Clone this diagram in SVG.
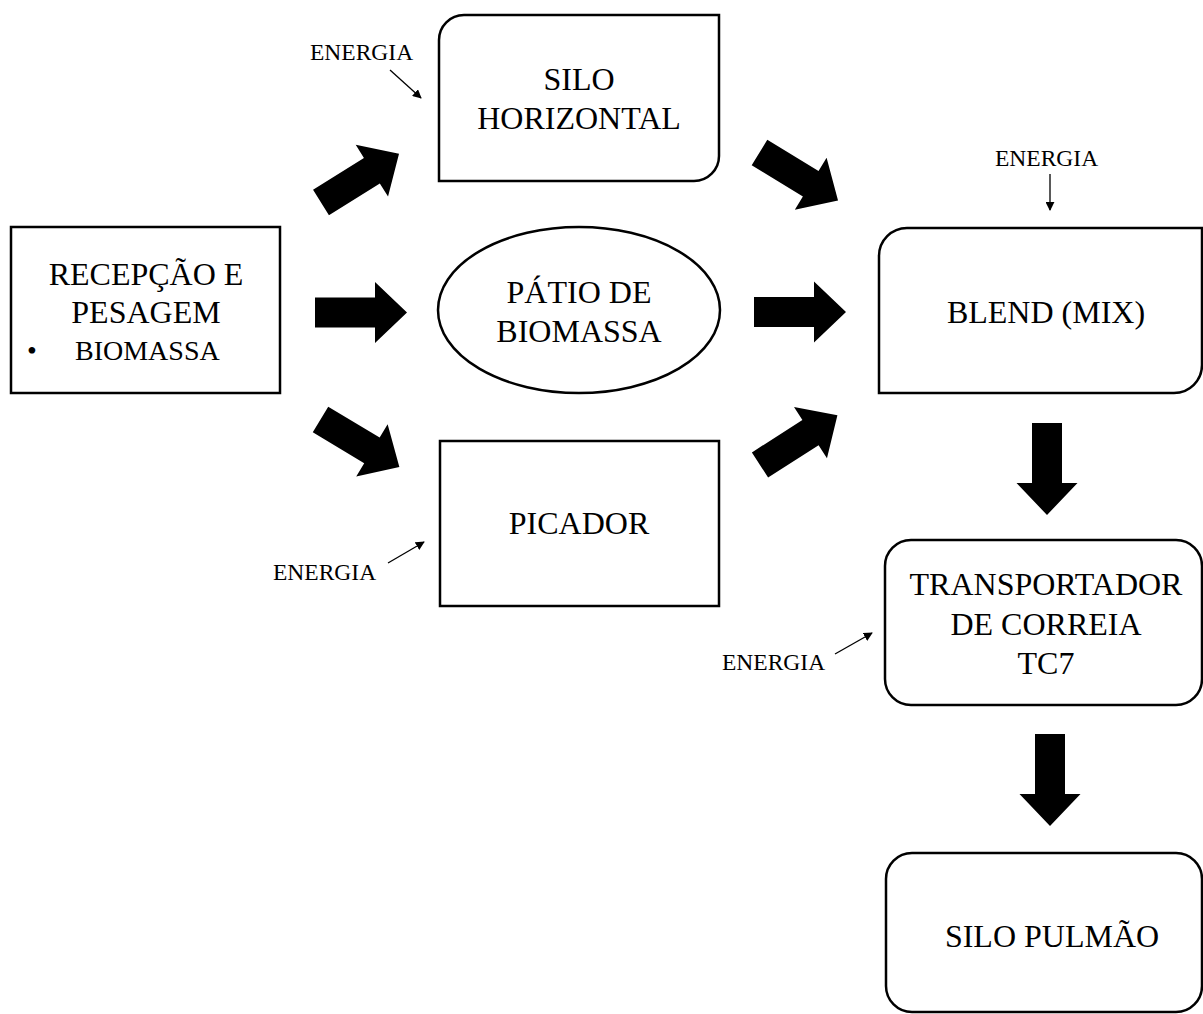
<svg xmlns="http://www.w3.org/2000/svg" xmlns:xlink="http://www.w3.org/1999/xlink" width="1203" height="1014" viewBox="0 0 1203 1014">
<style>
.box{fill:#fff;stroke:#000;stroke-width:2.5}
.t{font-family:"Liberation Serif","Times New Roman",serif;font-size:32px;fill:#000;text-anchor:middle}
.s{font-family:"Liberation Serif","Times New Roman",serif;font-size:23.5px;fill:#000}
.thin{stroke:#000;stroke-width:1.3;fill:none;marker-end:url(#ah)}
.big{fill:#000}
</style>
<defs>
<marker id="ah" viewBox="0 0 10 10" refX="9" refY="5" markerWidth="9" markerHeight="9" markerUnits="userSpaceOnUse" orient="auto">
<path d="M0,0 L10,5 L0,10 z" fill="#000"/>
</marker>
<path id="blk" d="M0,-15 L60,-15 L60,-30.5 L92,0 L60,30.5 L60,15 L0,15 z"/>
</defs>
<rect width="1203" height="1014" fill="#fff"/>

<g id="recepcao">
<rect class="box" x="11" y="227" width="269" height="166"/>
<text class="t" x="146" y="285">RECEPÇÃO E</text>
<text class="t" x="146" y="323">PESAGEM</text>
<text x="27" y="360" font-family="Liberation Serif, serif" font-size="28">•</text>
<text x="75" y="360" font-family="Liberation Serif, serif" font-size="28" fill="#000">BIOMASSA</text>
</g>

<g id="silo-horizontal">
<path class="box" d="M464,15 L719,15 L719,156 A25,25 0 0 1 694,181 L439,181 L439,40 A25,25 0 0 1 464,15 z"/>
<text class="t" x="579" y="90">SILO</text>
<text class="t" x="579" y="129">HORIZONTAL</text>
</g>

<g id="patio">
<ellipse class="box" cx="579" cy="310" rx="141" ry="83"/>
<text class="t" x="579" y="303">PÁTIO DE</text>
<text class="t" x="579" y="342">BIOMASSA</text>
</g>

<g id="picador">
<rect class="box" x="440" y="441" width="279" height="165"/>
<text class="t" x="579" y="534">PICADOR</text>
</g>

<g id="blend">
<path class="box" d="M907,228 L1202,228 L1202,365 A28,28 0 0 1 1174,393 L879,393 L879,256 A28,28 0 0 1 907,228 z"/>
<text class="t" x="1046" y="323">BLEND (MIX)</text>
</g>

<g id="transportador">
<rect class="box" x="885" y="540" width="317" height="165" rx="26" ry="26"/>
<text class="t" x="1046" y="595">TRANSPORTADOR</text>
<text class="t" x="1046" y="635">DE CORREIA</text>
<text class="t" x="1046" y="674">TC7</text>
</g>

<g id="silo-pulmao">
<rect class="box" x="886" y="853" width="316" height="159" rx="26" ry="26"/>
<text class="t" x="1052" y="947">SILO PULMÃO</text>
</g>

<g id="energia-labels">
<text class="s" x="310" y="60">ENERGIA</text>
<text class="s" x="995" y="166">ENERGIA</text>
<text class="s" x="273" y="580">ENERGIA</text>
<text class="s" x="722" y="670">ENERGIA</text>
</g>

<g id="connectors">
<use xlink:href="#blk" class="big" transform="translate(321,202.5) rotate(-32)"/>
<use xlink:href="#blk" class="big" transform="translate(315,312.5)"/>
<use xlink:href="#blk" class="big" transform="translate(320.5,419.5) rotate(31)"/>
<use xlink:href="#blk" class="big" transform="translate(759.5,152.5) rotate(31.4)"/>
<use xlink:href="#blk" class="big" transform="translate(754,312)"/>
<use xlink:href="#blk" class="big" transform="translate(760,465) rotate(-32.7)"/>
<use xlink:href="#blk" class="big" transform="translate(1047,423) rotate(90)"/>
<use xlink:href="#blk" class="big" transform="translate(1050,734) rotate(90)"/>
<line class="thin" x1="390" y1="70" x2="421" y2="98"/>
<line class="thin" x1="1050" y1="174" x2="1050" y2="210"/>
<line class="thin" x1="388" y1="563" x2="424" y2="542"/>
<line class="thin" x1="835" y1="654" x2="872" y2="633"/>
</g>
</svg>
